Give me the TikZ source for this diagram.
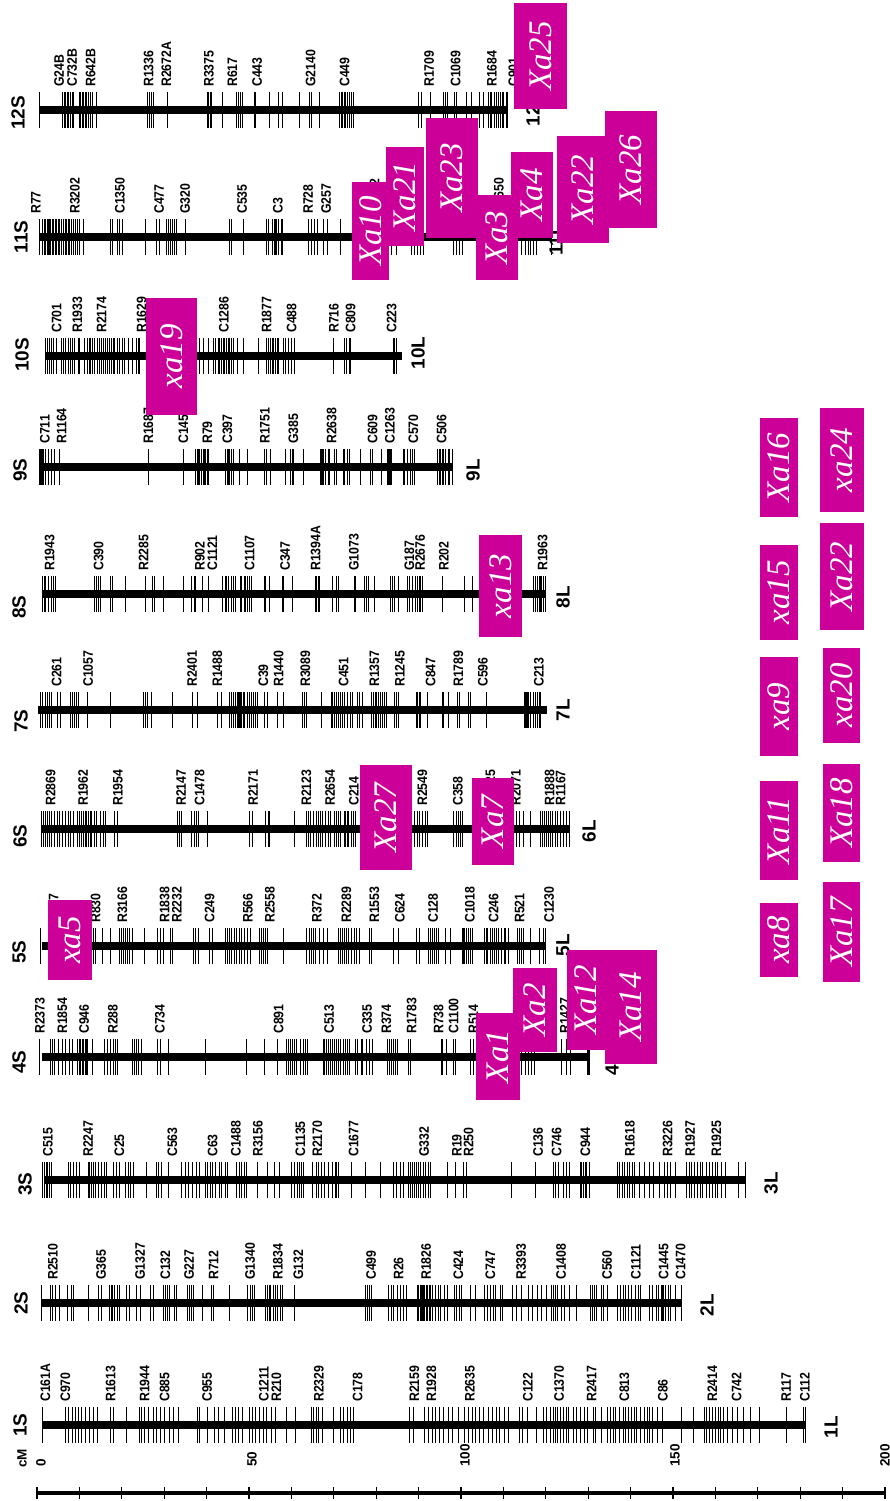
\documentclass[tikz,border=0pt]{standalone}
\usepackage{graphicx}
\usepackage{fontspec}
\setmainfont{Liberation Sans}
\newfontfamily\boxfont{Liberation Serif}
\definecolor{xamag}{RGB}{204,0,153}
\tikzset{
  tk/.style={line width=1pt},
  barline/.style={line width=7.5pt},
  mk/.style={rotate=90,anchor=west,inner sep=0pt,font=\bfseries\fontsize{12.3}{13}\selectfont},
  sc/.style={rotate=90,anchor=west,inner sep=0pt,font=\bfseries\fontsize{13.5}{14}\selectfont},
  chl/.style={rotate=90,anchor=center,inner sep=0pt,font=\bfseries\fontsize{19}{19}\selectfont},
  xatext/.style={rotate=90,anchor=center,text=white,inner sep=0pt,font=\boxfont\itshape\fontsize{33}{33}\selectfont}
}
\newcommand\chromo[7]{%
  \begin{scope}[x=#1pt]
    \draw[barline] (#3,#2) -- (#4,#2);
    \foreach \t in {#5} \draw[tk] (\t,#2-18) -- (\t,#2+18);
    \foreach \p/\s in {#6} \node[mk] (#7-\s) at (\p,#2-23) {\scalebox{1}[1.12]{\s}};
  \end{scope}}
\newcommand\xab[6]{%
  \fill[xamag] (#2,#3) rectangle (#4,#5);
  \node[xatext] (#1) at ({(#2+#4)/2},{(#3+#5)/2}) {#6};}
\begin{document}
\begin{tikzpicture}[x=1pt,y=-1pt]
\useasboundingbox (0,0) rectangle (890,1501);

% 1
\chromo{0.5676}{1425}{75}{1420}{75,115,120,128,133,138,143,150,158,165,172,195,200,222,245,250,255,262,270,275,282,290,298,305,315,348,352,365,378,385,395,410,415,420,428,440,445,450,458,465,470,478,485,505,520,548,553,558,562,568,588,600,606,612,618,622,722,728,748,755,762,768,775,782,790,798,808,818,825,832,838,845,852,860,868,875,880,888,895,915,920,930,945,958,962,970,975,978,982,988,992,998,1002,1010,1015,1022,1030,1035,1045,1050,1060,1070,1075,1080,1085,1092,1098,1102,1108,1112,1118,1122,1128,1135,1140,1145,1150,1158,1168,1200,1222,1242,1245,1250,1255,1260,1265,1270,1275,1282,1290,1300,1310,1322,1338,1385,1415,1420}{80/C161A,115/C970,195/R1613,255/R1944,290/C885,365/C955,465/C1211,487/R210,562/R2329,630/C178,730/R2159,760/R1928,828/R2635,930/C122,985/C1370,1042/R2417,1100/C813,1168/C86,1255/R2414,1298/C742,1385/R117,1418/C112}{a}
% 2
\chromo{0.4592}{1303}{90}{1483}{90,110,115,120,130,148,155,160,192,215,220,238,242,245,250,255,260,275,282,298,305,328,335,355,360,365,370,380,385,408,412,418,422,440,460,465,500,540,545,550,555,578,582,586,590,595,600,605,610,615,642,795,800,805,810,845,852,858,865,872,878,885,910,912,915,918,920,922,925,928,932,935,938,942,948,955,960,968,975,990,995,1000,1005,1025,1035,1055,1062,1068,1075,1080,1090,1095,1115,1125,1135,1150,1160,1170,1180,1190,1200,1205,1210,1215,1222,1230,1240,1255,1285,1290,1295,1300,1310,1315,1322,1345,1352,1358,1362,1368,1375,1385,1390,1395,1415,1420,1430,1435,1440,1442,1445,1450,1455,1460,1470,1483}{115/R2510,220/G365,305/G1327,360/C132,412/G227,465/R712,545/G1340,605/R1834,650/G132,808/C499,868/R26,928/R1826,998/C424,1068/C747,1135/R3393,1222/C1408,1322/C560,1385/C1121,1445/C1445,1482/C1470}{b}
% 3
\chromo{0.5038}{1180}{88}{1480}{85,88,92,95,98,102,135,140,145,152,158,175,178,182,185,190,195,202,208,212,225,232,238,250,255,260,265,290,310,315,320,335,360,368,375,382,390,395,408,412,418,422,428,435,440,448,452,470,475,480,485,490,512,530,545,555,578,585,590,595,598,602,620,628,632,638,645,652,660,665,668,672,698,725,755,782,788,795,800,810,815,818,822,826,830,835,840,845,850,855,888,905,920,925,1015,1062,1098,1102,1108,1118,1125,1130,1152,1155,1158,1162,1165,1170,1225,1230,1235,1240,1245,1250,1255,1260,1270,1280,1290,1298,1310,1318,1325,1330,1340,1362,1368,1372,1378,1385,1390,1395,1402,1408,1415,1420,1425,1432,1440,1465,1480}{95/C515,175/R2247,237/C25,342/C563,422/C63,468/C1488,512/R3156,596/C1135,630/R2170,702/C1677,842/G332,907/R19,930/R250,1068/C136,1105/C746,1162/C944,1250/R1618,1325/R3226,1370/R1927,1422/R1925}{c}
% 4
\chromo{0.4209}{1057}{100}{1398}{95,120,125,130,140,148,155,165,172,185,188,192,195,198,202,205,208,220,248,255,262,270,275,280,315,320,325,330,335,375,382,400,488,585,628,660,680,685,690,695,700,705,715,720,725,730,768,772,776,780,785,790,795,800,805,810,815,820,825,830,845,850,858,862,870,878,885,920,925,930,935,940,945,970,975,1048,1052,1060,1078,1082,1118,1125,1240,1248,1255,1262,1270,1335,1345,1355}{95/R2373,148/R1854,200/C946,268/R288,380/C734,662/C891,782/C513,872/C335,918/R374,978/R1783,1042/R738,1078/C1100,1125/R514,1342/R1427}{d}
\begin{scope}[x=0.4209pt]
  \draw[line width=2.5pt] (1398,1039) -- (1398,1075);
\end{scope}
% 5
\chromo{0.3827}{946}{110}{1425}{105,245,250,268,290,312,318,322,328,332,338,345,378,412,420,428,445,450,505,512,518,548,555,588,595,600,605,612,618,625,632,640,648,655,678,682,688,695,700,740,802,808,815,820,825,835,845,855,885,890,895,900,905,910,918,925,932,940,965,970,1028,1040,1088,1095,1120,1125,1130,1135,1140,1145,1165,1178,1208,1212,1215,1220,1225,1230,1235,1265,1270,1275,1282,1288,1292,1298,1302,1310,1318,1322,1328,1352,1358,1362,1368,1385,1410,1420,1425}{140/R867,250/R830,320/R3166,430/R1838,462/R2232,548/C249,648/R566,705/R2558,828/R372,905/R2289,978/R1553,1045/C624,1132/C128,1228/C1018,1290/C246,1358/R521,1435/C1230}{e}
% 6
\chromo{0.3954}{829}{105}{1440}{105,110,115,120,125,130,138,145,150,158,165,172,178,185,195,200,205,210,215,220,225,228,232,238,245,255,262,268,290,298,448,455,460,485,492,498,502,525,632,638,672,678,682,745,775,780,785,792,800,805,810,815,822,830,835,845,850,855,862,870,875,878,882,890,895,900,1048,1055,1062,1068,1075,1080,1148,1155,1160,1165,1170,1305,1315,1325,1342,1368,1372,1378,1382,1388,1392,1398,1405,1410,1418,1425,1432,1440}{128/R2869,210/R1962,298/R1954,458/R2147,505/C1478,640/R2171,775/R2123,835/R2654,895/C214,1068/R2549,1158/C358,1240/R1625,1305/R2071,1390/R1888,1418/R1167}{f}
% 7
\chromo{0.3827}{710}{100}{1430}{105,112,118,125,130,135,150,158,185,190,195,200,205,228,288,375,380,385,395,450,502,515,568,580,600,605,610,615,620,622,625,628,632,635,638,640,648,652,658,662,668,672,690,698,725,740,790,795,800,840,865,870,875,880,885,890,895,900,908,915,922,935,940,948,972,975,980,985,990,995,1000,1005,1010,1030,1035,1040,1088,1092,1095,1098,1118,1155,1160,1172,1195,1200,1225,1230,1270,1370,1372,1375,1378,1382,1385,1395,1400,1405,1410,1412}{148/C261,230/C1057,502/R2401,568/R1488,688/C39,728/R1440,798/R3089,898/C451,978/R1357,1045/R1245,1125/C847,1198/R1789,1262/C596,1408/C213}{g}
% 8
\chromo{0.3827}{594}{110}{1425}{110,115,120,128,135,140,145,248,252,258,262,290,295,328,380,398,405,428,480,500,508,512,530,545,582,588,592,598,605,610,615,628,632,638,642,648,652,656,690,695,705,738,742,765,825,828,832,835,868,880,885,925,930,952,958,962,978,1020,1025,1030,1042,1065,1070,1078,1085,1090,1095,1100,1105,1155,1215,1235,1395,1400,1405,1410,1412,1415,1420,1425}{130/R1943,258/C390,375/R2285,522/R902,555/C1121,652/C1107,745/C347,825/R1394A,925/G1073,1070/G187,1098/R2676,1160/R202,1418/R1963}{h}
% 9
\chromo{0.3333}{467}{120}{1360}{120,122,125,128,132,138,145,155,165,180,445,552,588,592,595,600,605,610,615,618,622,625,678,682,685,690,695,702,720,742,795,800,812,858,872,878,882,912,962,965,968,972,978,985,990,1005,1010,1030,1035,1042,1048,1082,1112,1118,1145,1162,1165,1168,1172,1175,1210,1215,1222,1232,1238,1245,1312,1318,1322,1328,1332,1338,1345,1350,1358}{135/C711,185/R1164,445/R1687,550/C1454,622/R79,682/C397,795/R1751,880/G385,995/R2638,1118/C609,1170/C1263,1240/C570,1325/C506}{i}
% 10
\chromo{0.3333}{356}{135}{1205}{138,142,148,155,162,170,185,192,198,205,212,218,225,235,240,255,262,268,272,278,285,292,298,305,312,318,322,328,335,340,345,352,358,368,375,385,398,410,415,420,600,612,625,640,648,655,660,665,670,675,680,685,690,695,700,712,730,775,800,805,812,818,822,828,832,835,852,858,865,875,885,1000,1035,1040,1048,1052,1182,1185,1190}{170/C701,232/R1933,305/R2174,425/R1629,672/C1286,800/R1877,875/C488,1002/R716,1052/C809,1175/C223}{j}
% 11
\chromo{0.4209}{237}{95}{1310}{95,100,105,108,112,115,118,120,125,128,132,135,138,142,145,150,155,158,162,165,170,175,180,185,190,198,262,268,280,285,290,345,372,378,395,400,405,410,415,420,440,545,550,578,632,638,648,652,655,658,662,668,672,732,740,748,755,768,778,810,930,942,978,985,992,1000,1005,1078,1085,1092,1098,1240,1248,1255,1260,1268,1275,1310}{85/R77,178/R3202,285/C1350,378/C477,440/G320,575/C535,660/C3,732/R728,775/G257,890/R1182,1185/R1650}{k}
% 12
\chromo{0.3699}{110}{108}{1372}{108,170,175,178,182,185,190,195,198,215,218,222,225,230,235,240,245,250,260,400,405,410,415,452,562,565,568,572,602,640,645,650,655,688,692,728,752,765,810,838,842,865,918,922,925,930,935,940,945,950,955,1132,1140,1165,1200,1205,1210,1228,1235,1262,1275,1295,1308,1320,1325,1330,1338,1342,1348,1352,1358,1362,1368,1372}{160/G24B,195/C732B,245/R642B,402/R1336,450/R2672A,565/R3375,628/R617,695/C443,840/G2140,932/C449,1160/R1709,1232/C1069,1330/R1684,1388/C901}{l}

% chromosome end labels
\node[chl] (s1) at (20,1425) {1S};  \node[chl] (e1) at (831,1427) {1L};
\node[chl] (s2) at (21,1303) {2S};  \node[chl] (e2) at (707,1305) {2L};
\node[chl] (s3) at (25,1184) {3S};  \node[chl] (e3) at (771,1183) {3L};
\node[chl] (s4) at (19,1062) {4S};  \node[chl] (e4) at (612,1064) {4L};
\node[chl] (s5) at (19,952) {5S};   \node[chl] (e5) at (563,945) {5L};
\node[chl] (s6) at (20,836) {6S};   \node[chl] (e6) at (589,831) {6L};
\node[chl] (s7) at (21,721) {7S};   \node[chl] (e7) at (563,710) {7L};
\node[chl] (s8) at (19,607) {8S};   \node[chl] (e8) at (563,597) {8L};
\node[chl] (s9) at (20,470) {9S};   \node[chl] (e9) at (473,470) {9L};
\node[chl] (s10) at (22,355) {10S}; \node[chl] (e10) at (418,353) {10L};
\node[chl] (s11) at (21,237) {11S}; \node[chl] (e11) at (556,240) {11L};
\node[chl] (s12) at (18,113) {12S}; \node[chl] (e12) at (533,110) {12L};

% scale
\draw[line width=3.5pt] (37,1493) -- (885,1493);
\foreach \i in {0,...,20} \draw[line width=1.2pt] ({37+42.4*\i},1487) -- ({37+42.4*\i},1499);
\node[sc] (cm) at (22,1468) {cM};
\node[sc] (t0) at (41,1467) {0};
\node[sc] (t50) at (252,1467) {50};
\node[sc] (t100) at (465,1467) {100};
\node[sc] (t150) at (675,1467) {150};
\node[sc] (t200) at (885,1467) {200};

% resistance gene boxes
\xab{b25}{514}{3}{567}{109}{Xa25}
\xab{b26}{605}{111}{657}{228}{Xa26}
\xab{b22a}{557}{136}{609}{243}{Xa22}
\xab{b23}{426}{118}{478}{238}{Xa23}
\xab{b10}{352}{182}{389}{280}{Xa10}
\xab{b21}{386}{147}{424}{246}{Xa21}
\xab{b3}{476}{195}{518}{280}{Xa3}
\xab{b4}{511}{152}{553}{238}{Xa4}
\xab{b19}{146}{298}{197}{415}{xa19}
\xab{b16}{760}{418}{798}{517}{Xa16}
\xab{b24}{820}{408}{864}{512}{xa24}
\xab{b15}{760}{545}{798}{640}{xa15}
\xab{b22b}{820}{523}{864}{630}{Xa22}
\xab{b13}{479}{535}{522}{637}{xa13}
\xab{b9}{760}{657}{798}{756}{xa9}
\xab{b20}{823}{648}{860}{743}{xa20}
\xab{b27}{360}{765}{412}{870}{Xa27}
\xab{b7}{472}{778}{514}{865}{Xa7}
\xab{b11}{760}{781}{798}{880}{Xa11}
\xab{b18}{823}{764}{860}{862}{Xa18}
\xab{b5}{48}{900}{92}{980}{xa5}
\xab{b8}{760}{903}{798}{977}{xa8}
\xab{b17}{823}{882}{860}{982}{Xa17}
\xab{b12}{567}{950}{605}{1050}{Xa12}
\xab{b14}{605}{950}{657}{1064}{Xa14}
\xab{b2}{513}{968}{557}{1052}{Xa2}
\xab{b1}{476}{1013}{520}{1100}{Xa1}
\end{tikzpicture}
\end{document}
